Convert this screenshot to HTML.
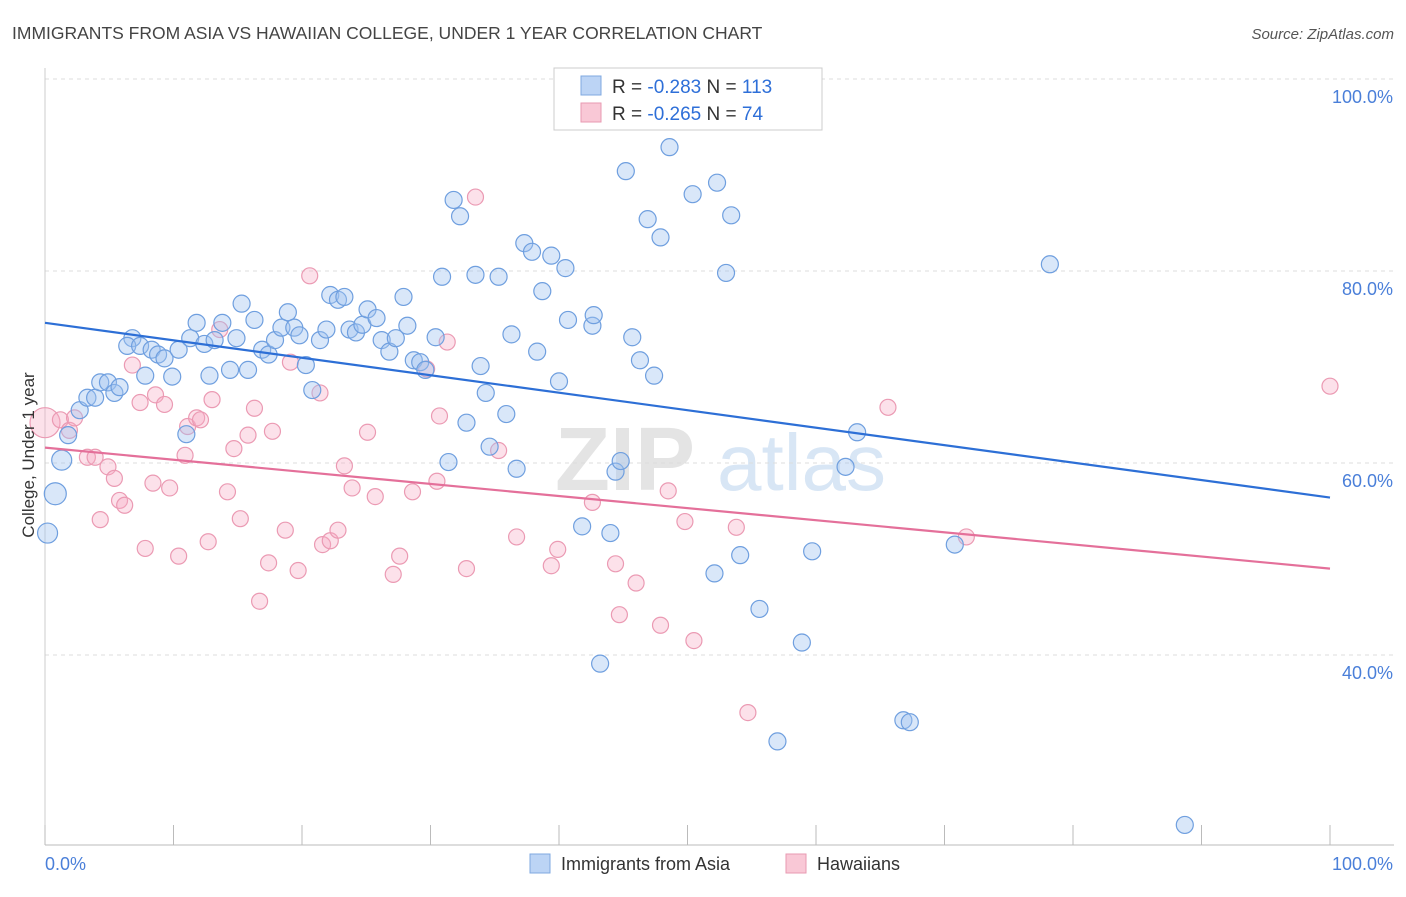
<!DOCTYPE html>
<html><head><meta charset="utf-8"><style>
body{margin:0;background:#fff;font-family:"Liberation Sans",sans-serif;}
svg text{font-family:"Liberation Sans",sans-serif;}
</style></head><body>
<svg id="chart" width="1406" height="892" xmlns="http://www.w3.org/2000/svg">
<text x="12" y="39" font-size="17.5" fill="#444">IMMIGRANTS FROM ASIA VS HAWAIIAN COLLEGE, UNDER 1 YEAR CORRELATION CHART</text>
<text x="1394" y="39" font-size="15" fill="#555" text-anchor="end" font-style="italic">Source: ZipAtlas.com</text>
<g>
<text x="555" y="490" font-size="90" fill="#e4e4e4" font-family="Liberation Serif" font-weight="bold">ZIP</text>
<text x="717" y="490" font-size="80" fill="#d8e6f5">atlas</text>
</g>
<g id="grid"></g><g id="axes"></g><g id="pts"></g><g id="trends"></g>
<text transform="translate(34,455) rotate(-90)" font-size="17" fill="#333" text-anchor="middle">College, Under 1 year</text>
<g>
<rect x="554" y="68" width="268" height="62" fill="#fff" stroke="#ccc"/>
<rect x="581" y="76" width="20" height="19" fill="#bcd4f5" stroke="#7fa8e0"/>
<text x="612" y="93" font-size="19" fill="#333">R = <tspan fill="#2e6fd8">-0.283</tspan>   N = <tspan fill="#2e6fd8">113</tspan></text>
<rect x="581" y="103" width="20" height="19" fill="#f9c8d6" stroke="#e89ab2"/>
<text x="612" y="120" font-size="19" fill="#333">R = <tspan fill="#2e6fd8">-0.265</tspan>   N = <tspan fill="#2e6fd8"> 74</tspan></text>
</g>
<g>
<rect x="530" y="854" width="20" height="19" fill="#bcd4f5" stroke="#7fa8e0"/>
<text x="561" y="870" font-size="18" fill="#333">Immigrants from Asia</text>
<rect x="786" y="854" width="20" height="19" fill="#f9c8d6" stroke="#e89ab2"/>
<text x="817" y="870" font-size="18" fill="#333">Hawaiians</text>
</g>
</svg>
<script>
const yTicks=[40,60,80,100];
const yTickLabels=["40.0%","60.0%","80.0%","100.0%"];
const xTicks=[0,10,20,30,40,50,60,70,80,90,100];
const blueX=[0.2,0.8,1.3,1.8,2.7,3.3,3.9,4.3,4.9,5.4,5.8,6.8,6.4,7.4,7.8,8.3,8.8,9.3,9.9,10.4,11.0,11.3,11.8,12.4,12.8,13.2,13.8,14.4,14.9,15.3,15.8,16.3,16.9,17.4,17.9,18.4,18.9,19.4,19.8,20.3,20.8,21.4,21.9,22.2,22.8,23.3,23.7,24.2,24.7,25.1,25.8,26.2,26.8,27.3,27.9,28.2,28.7,29.2,29.6,30.4,30.9,31.4,31.8,32.3,32.8,33.5,33.9,34.3,34.6,35.3,35.9,36.3,36.7,37.3,37.9,38.3,38.7,39.4,40.0,40.5,40.7,41.8,42.6,42.7,43.2,44.0,44.4,44.8,45.2,45.7,46.3,46.9,47.4,47.9,48.6,50.4,52.1,52.3,53.0,53.4,54.1,55.6,57.0,58.9,59.7,62.3,63.2,66.8,67.3,70.8,78.2,88.7];
const blueY=[52.7,56.8,60.3,62.9,65.5,66.8,66.8,68.4,68.4,67.3,67.9,73.0,72.2,72.2,69.1,71.8,71.3,70.9,69.0,71.8,63.0,73.0,74.6,72.4,69.1,72.8,74.6,69.7,73.0,76.6,69.7,74.9,71.8,71.3,72.8,74.1,75.7,74.1,73.3,70.2,67.6,72.8,73.9,77.5,77.0,77.3,73.9,73.6,74.4,76.0,75.1,72.8,71.6,73.0,77.3,74.3,70.7,70.5,69.7,73.1,79.4,60.1,87.4,85.7,64.2,79.6,70.1,67.3,61.7,79.4,65.1,73.4,59.4,82.9,82.0,71.6,77.9,81.6,68.5,80.3,74.9,53.4,74.3,75.4,39.1,52.7,59.1,60.2,90.4,73.1,70.7,85.4,69.1,83.5,92.9,88.0,48.5,89.2,79.8,85.8,50.4,44.8,31.0,41.3,50.8,59.6,63.2,33.2,33.0,51.5,80.7,22.3];
const blueR=[10,11,10];
const pinkX=[0,1.2,1.9,2.3,3.3,3.9,4.3,4.9,5.4,5.8,6.2,6.8,7.4,7.8,8.4,8.6,9.3,9.7,10.4,10.9,11.1,11.8,12.1,12.7,13.0,13.6,14.2,14.7,15.2,15.8,16.3,16.7,17.4,17.7,18.7,19.1,19.7,20.6,21.4,21.6,22.2,22.8,23.3,23.9,25.1,25.7,27.1,27.6,28.6,29.7,30.5,30.7,31.3,32.8,33.5,35.3,36.7,39.4,39.9,42.6,44.4,44.7,46.0,47.9,48.5,49.8,50.5,53.8,54.7,65.6,71.7,100];
const pinkY=[64.2,64.5,63.4,64.7,60.6,60.6,54.1,59.6,58.4,56.1,55.6,70.2,66.3,51.1,57.9,67.1,66.1,57.4,50.3,60.8,63.8,64.7,64.5,51.8,66.6,73.9,57.0,61.5,54.2,62.9,65.7,45.6,49.6,63.3,53.0,70.5,48.8,79.5,67.3,51.5,51.9,53.0,59.7,57.4,63.2,56.5,48.4,50.3,57.0,69.8,58.1,64.9,72.6,49.0,87.7,61.3,52.3,49.3,51.0,55.9,49.5,44.2,47.5,43.1,57.1,53.9,41.5,53.3,34.0,65.8,52.3,68.0];
const pinkR=[15];
const blueTrend=[74.6,56.4];
const pinkTrend=[61.6,49.0];
const X0=45,X1=1330,Y100=79,PXPER=9.6;
function sx(v){return X0+(X1-X0)*v/100;}
function sy(v){return Y100+(100-v)*PXPER;}
const NS="http://www.w3.org/2000/svg";
function mk(tag,attrs,parent){const e=document.createElementNS(NS,tag);for(const k in attrs)e.setAttribute(k,attrs[k]);parent.appendChild(e);return e;}
const grid=document.getElementById('grid'),axes=document.getElementById('axes'),pts=document.getElementById('pts'),tr=document.getElementById('trends');
yTicks.forEach((t,i)=>{
 const l=mk('line',{x1:X0,x2:1394,y1:sy(t),y2:sy(t),stroke:'#ddd','stroke-dasharray':'4,4'},grid);
 
 
 const tx=mk('text',{x:1393,y:sy(t)+24,'font-size':18,fill:'#4a7fd9','text-anchor':'end'},axes);
 tx.textContent=yTickLabels[i];
 
 
});
const ax=mk('line',{x1:X0,x2:1394,y1:845,y2:845,stroke:'#bbb'},axes);


const ay=mk('line',{x1:X0,x2:X0,y1:68,y2:845,stroke:'#ccc'},axes);


xTicks.forEach(t=>{
 const l=mk('line',{x1:sx(t),x2:sx(t),y1:825,y2:845,stroke:'#bbb'},axes);
 
 
});
const xl0=mk('text',{x:45,y:870,'font-size':18,fill:'#4a7fd9'},axes);xl0.textContent='0.0%';


const xl1=mk('text',{x:1393,y:870,'font-size':18,fill:'#4a7fd9','text-anchor':'end'},axes);xl1.textContent='100.0%';


pinkX.forEach((v,i)=>{
 const c=mk('circle',{cx:sx(v),cy:sy(pinkY[i]),r:pinkR[i]||8,fill:'rgba(245,170,195,0.35)',stroke:'#eb9ab3','stroke-width':1.2},pts);
 
 
});
blueX.forEach((v,i)=>{
 const c=mk('circle',{cx:sx(v),cy:sy(blueY[i]),r:blueR[i]||8.5,fill:'rgba(160,195,240,0.4)',stroke:'#6f9fdf','stroke-width':1.2},pts);
 
 
});
const bt=mk('line',{x1:sx(0),y1:sy(blueTrend[0]),x2:sx(100),y2:sy(blueTrend[1]),stroke:'#2d6fd6','stroke-width':2.2},tr);


const pt=mk('line',{x1:sx(0),y1:sy(pinkTrend[0]),x2:sx(100),y2:sy(pinkTrend[1]),stroke:'#e4709a','stroke-width':2.2},tr);


</script>
</body></html>
